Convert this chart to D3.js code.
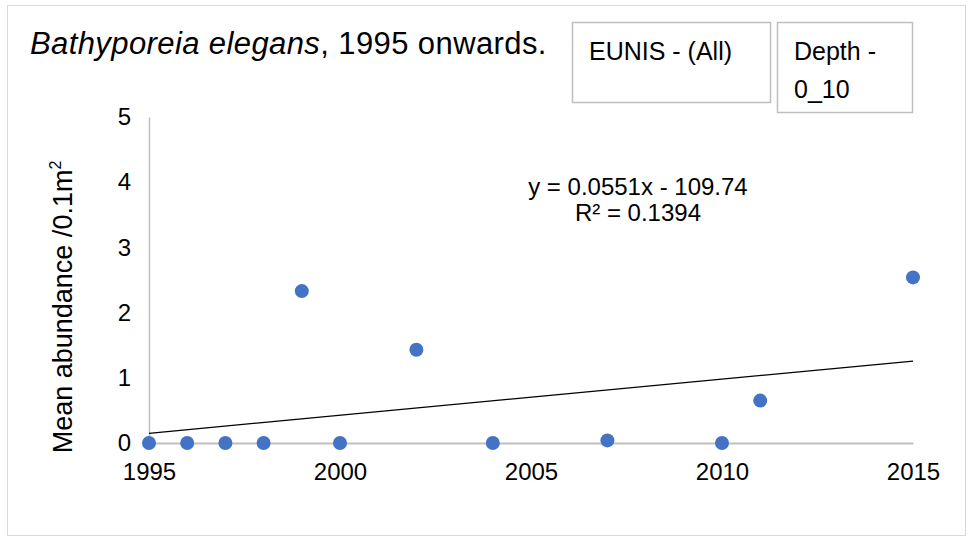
<!DOCTYPE html>
<html>
<head>
<meta charset="utf-8">
<script src="https://cdn.jsdelivr.net/npm/d3@7"></script>
<style>
  body { margin: 0; background: #fff; }
  text { font-family: "Liberation Sans", Arial, sans-serif; }
</style>
</head>
<body>
<svg class="chart"></svg>
<script>
const years = [1995, 1996, 1997, 1998, 1999, 2000, 2002, 2004, 2007, 2010, 2011, 2015];
const abundance = [0, 0, 0, 0, 2.33, 0, 1.43, 0, 0.04, 0, 0.65, 2.54];
const yTicks = [0, 1, 2, 3, 4, 5];
const xTicks = [1995, 2000, 2005, 2010, 2015];
const equationText = ['y = 0.0551x - 109.74', 'R² = 0.1394'];

const width = 969;
const height = 537;

const svg = d3.select('svg.chart')
	.attr('width', width)
	.attr('height', height);

// outer frame
svg.append('rect')
	.attr('x', 7.5).attr('y', 5.5)
	.attr('width', 958).attr('height', 530)
	.attr('fill', '#fff')
	.attr('stroke', '#d9d9d9');

const margin = { top: 117, right: 56, bottom: 94, left: 149 };
const innerWidth = width - margin.left - margin.right;
const innerHeight = height - margin.top - margin.bottom;

const x = d3.scaleLinear().domain([1995, 2015]).range([0, innerWidth]);
const y = d3.scaleLinear().domain([0, 5]).range([innerHeight, 0]);

const g = svg.append('g')
	.attr('transform', `translate(${margin.left}, ${margin.top})`);

// axes
const yAxis = g.append('g')
	.call(d3.axisLeft(y).tickValues(yTicks).tickFormat(d3.format('d')).tickSize(0).tickPadding(18));
yAxis.select('.domain').attr('stroke', '#bfbfbf').attr('stroke-width', 1.5);
yAxis.selectAll('text').attr('font-size', 24).attr('fill', '#000')
	.attr('font-family', '"Liberation Sans", Arial, sans-serif');

const xAxis = g.append('g')
	.attr('transform', `translate(0, ${innerHeight})`)
	.call(d3.axisBottom(x).tickValues(xTicks).tickFormat(d3.format('d')).tickSize(0).tickPadding(20));
xAxis.select('.domain').attr('stroke', '#bfbfbf').attr('stroke-width', 2);
xAxis.selectAll('text').attr('font-size', 24).attr('fill', '#000')
	.attr('font-family', '"Liberation Sans", Arial, sans-serif');

// linear trend (least squares)
const mx = d3.mean(years), my = d3.mean(abundance);
const slope = d3.sum(years, (v, i) => (v - mx) * (abundance[i] - my)) /
	d3.sum(years, v => (v - mx) * (v - mx));
const intercept = my - slope * mx;
const lineData = [1995, 2015].map(v => [v, slope * v + intercept]);
g.append('path')
	.datum(lineData)
	.attr('fill', 'none')
	.attr('stroke', '#000')
	.attr('stroke-width', 1.3)
	.attr('d', d3.line().x(d => x(d[0])).y(d => y(d[1])));

// points
g.selectAll('circle')
	.data(years.map((yr, i) => ({ yr, v: abundance[i] })))
	.enter().append('circle')
	.attr('cx', d => x(d.yr))
	.attr('cy', d => y(d.v))
	.attr('r', 7)
	.attr('fill', '#4472c4');

// equation
const eq = g.append('text')
	.attr('text-anchor', 'middle')
	.attr('font-size', 24)
	.attr('fill', '#000');
equationText.forEach((t, i) => {
	eq.append('tspan').attr('x', x(2007.8)).attr('y', y(4) + 13 + i * 26).text(t);
});

// y label
const yl = svg.append('text')
	.attr('transform', `translate(72, 307) rotate(-90)`)
	.attr('text-anchor', 'middle')
	.attr('font-size', 27)
	.attr('fill', '#000');
yl.append('tspan').text('Mean abundance /0.1m');
yl.append('tspan').attr('font-size', 16).attr('dy', -11).text('2');

// title
const title = svg.append('text')
	.attr('x', 30).attr('y', 54)
	.attr('font-size', 31)
	.attr('letter-spacing', '0.4px')
	.attr('fill', '#000');
title.append('tspan').attr('font-style', 'italic').text('Bathyporeia elegans');
title.append('tspan').text(', 1995 onwards.');

// filter boxes
const boxes = [
	{ x: 572, y: 22, w: 198, h: 80, lines: ['EUNIS - (All)'] },
	{ x: 777, y: 22, w: 135, h: 90, lines: ['Depth -', '0_10'] }
];
const box = svg.selectAll('g.box').data(boxes).enter().append('g').attr('class', 'box');
box.append('rect')
	.attr('x', d => d.x + 0.5).attr('y', d => d.y + 0.5)
	.attr('width', d => d.w).attr('height', d => d.h)
	.attr('fill', '#fff')
	.attr('stroke', '#bfbfbf').attr('stroke-width', 1.5);
box.each(function(d) {
	const t = d3.select(this).append('text')
		.attr('font-family', 'Carlito, Lato, "Open Sans", sans-serif')
		.attr('font-size', 25)
		.attr('fill', '#000');
	d.lines.forEach((l, i) => {
		t.append('tspan').attr('x', d.x + 17).attr('y', d.y + 38 + i * 38).text(l);
	});
});
</script>
</body>
</html>
